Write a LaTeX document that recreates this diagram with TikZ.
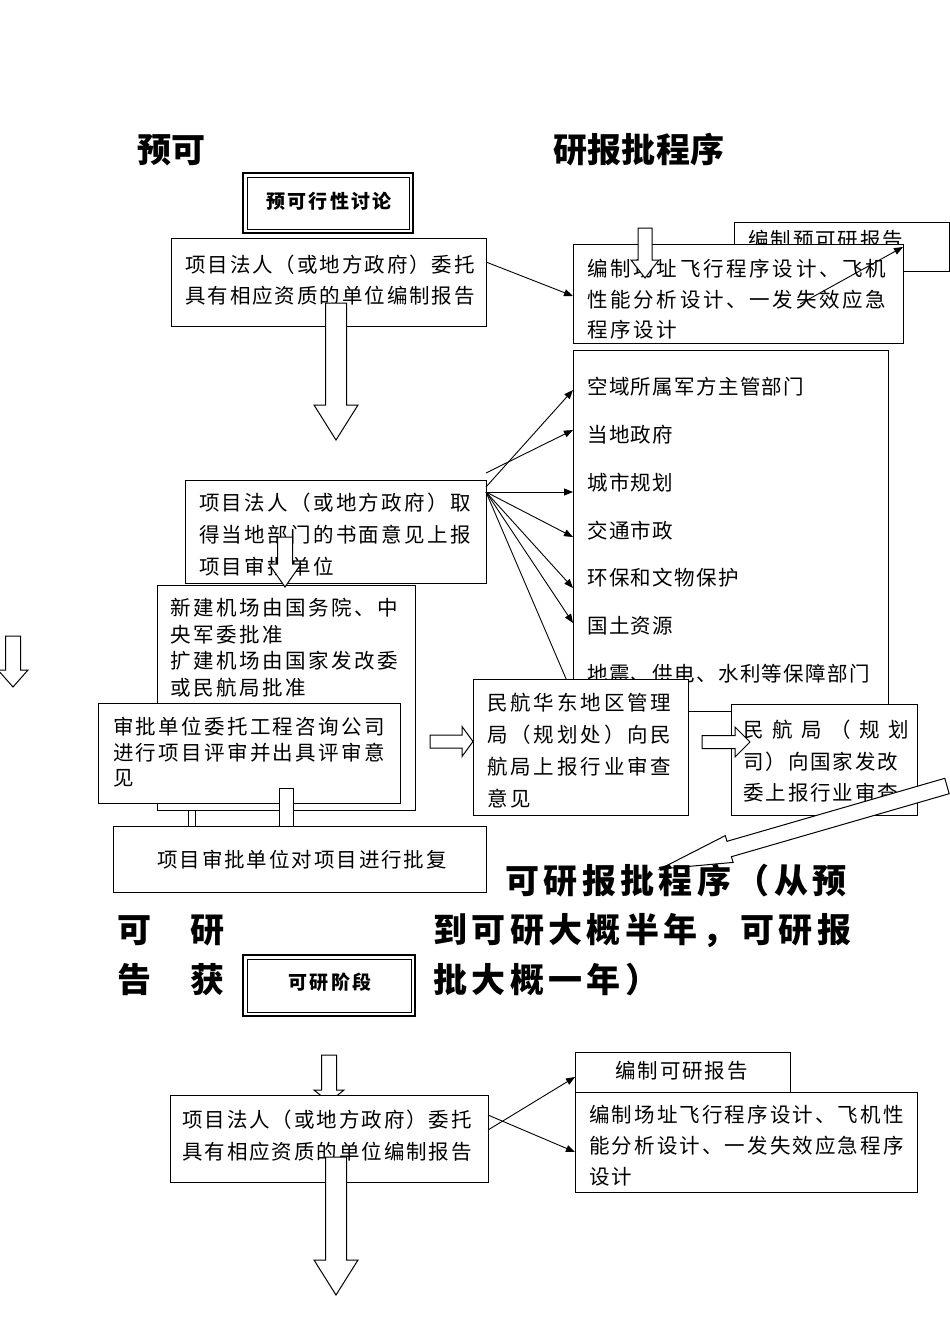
\documentclass[tikz,border=0pt]{standalone}
\usepackage{fontspec}
\newfontfamily\cjk{Noto Sans CJK SC}
\usetikzlibrary{arrows.meta}

\newcommand\ml[2]{\parbox[t]{400pt}{\baselineskip=#1pt\relax #2}}
\newcommand\bx[6][]{\node[box,#1,minimum width=#5pt,minimum height=#6pt] (#2) at (#3,#4) {};}
% down block arrow: cx, ytop, shaft half, head half, head start y, tip y
\newcommand\darr[6]{\draw[blk] ({#1-#3},#2) -- ({#1+#3},#2) -- ({#1+#3},#5) -- ({#1+#4},#5) -- (#1,#6) -- ({#1-#4},#5) -- ({#1-#3},#5) -- cycle;}
% right block arrow: cy, x0, shaft half, head half, head start x, tip x
\newcommand\rarr[6]{\draw[blk] (#2,{#1-#3}) -- (#5,{#1-#3}) -- (#5,{#1-#4}) -- (#6,#1) -- (#5,{#1+#4}) -- (#5,{#1+#3}) -- (#2,{#1+#3}) -- cycle;}
\newcommand\bodyfont[1]{\cjk\fontsize{20.5}{31}\selectfont\addfontfeature{LetterSpace=#1}}

\begin{document}
\begin{tikzpicture}[x=1pt,y=-1pt,
  box/.style={draw, fill=white, line width=1pt, inner sep=0pt, outer sep=0pt, anchor=north west},
  dbox/.style={box, line width=1.7pt},
  txt/.style={anchor=base west, inner sep=0pt, font=\bodyfont{9.4}},
  btxt/.style={anchor=base, inner sep=0pt, font=\cjk\bfseries\fontsize{19}{24}\selectfont\addfontfeature{LetterSpace=12}},
  title/.style={anchor=base west, inner sep=0pt, font=\cjk\bfseries\fontsize{34}{40}\selectfont\addfontfeature{LetterSpace=1}},
  big/.style={anchor=base west, inner sep=0pt, font=\cjk\bfseries\fontsize{34}{40}\selectfont\addfontfeature{LetterSpace=13}},
  ar/.style={-{Triangle[length=9pt,width=7pt]}, line width=0.9pt},
  ln/.style={line width=0.9pt},
  blk/.style={draw, fill=white, line width=1pt, line join=miter}]
\fill[white] (0,0) rectangle (950,1344);
\useasboundingbox (0,0) rectangle (950,1344);

% titles
\node[title] (tt1) at (137,162) {预可};
\node[title] (tt2) at (553,162) {研报批程序};

% pre-feasibility discussion box
\bx[dbox]{T1}{243}{173}{170}{60}
\draw[line width=0.8pt] ([xshift=4pt,yshift=-4pt]T1.north west) rectangle ([xshift=-4pt,yshift=4pt]T1.south east);
\node[btxt] (T1t) at (329,208) {预可行性讨论};

% A1
\bx{A1}{171}{238}{315}{88}
\node[txt] (A1t) at (185,272.5) {\ml{31}{项目法人（或地方政府）委托\\具有相应资质的单位编制报告}};

% P box
\bx{P}{734}{222}{215}{49}
\node[txt] (Pt) at (748,247.5) {编制预可研报告};

% B1
\bx{B1}{573}{244}{330}{99}
\begin{scope}
\clip (B1.north west) rectangle (B1.south east);
\node[txt, font=\bodyfont{13.2}] (B1t) at (587,276.5) {\ml{30.5}{编制场址飞行程序设计、飞机\\性能分析设计、一发失效应急\\程序设计}};
\end{scope}

\draw[ar] ([yshift=20pt]A1.east) -- ([yshift=-2.5pt]B1.west);
\coordinate (bs) at (800,304);
\draw[ar] (bs) -- ([yshift=-3pt]B1.north east);
\darr{645}{228}{7}{14}{260}{278}
\darr{336}{303}{10.5}{22}{405}{440}

% list box
\bx{L}{573}{350}{315}{361}
\begin{scope}[every node/.style={txt, font=\bodyfont{6.5}}]
\node (li1) at (587,394.5) {空域所属军方主管部门};
\node (li2) at (587,442.5) {当地政府};
\node (li3) at (587,490.5) {城市规划};
\node (li4) at (587,538.5) {交通市政};
\node (li5) at (587,585.5) {环保和文物保护};
\node (li6) at (587,633.5) {国土资源};
\node (li7) at (587,681.5) {地震、供电、水利等保障部门};
\end{scope}

% A2
\bx{A2}{185}{480}{301}{103}
\node[txt, font=\bodyfont{11.3}] (A2t) at (199,510.5) {\ml{32}{项目法人（或地方政府）取\\得当地部门的书面意见上报\\项目审批单位}};

\coordinate (a2s) at ([yshift=7pt]A2.north east);
\draw[ar] (a2s) -- ([yshift=-80pt]L.north west);
\draw[ar] ([yshift=-7pt]A2.north east) -- ([yshift=-40pt]L.north west);
\draw[ar] ([yshift=-12pt]A2.north east) -- ([yshift=-142pt]L.north west);
\draw[ar] ([yshift=-12pt]A2.north east) -- ([yshift=-187pt]L.north west);
\draw[ar] ([yshift=-12pt]A2.north east) -- ([yshift=-238pt]L.north west);
\draw[ar] ([yshift=-12pt]A2.north east) -- ([yshift=-273pt]L.north west);
\draw[ln] ([yshift=-12pt]A2.north east) -- ([yshift=-345pt]L.north west);

% A3
\bx{A3}{157}{585}{258}{225}
\node[txt, font=\bodyfont{12.2}] (A3t) at (170,615.5) {\ml{26.7}{新建机场由国务院、中\\央军委批准\\扩建机场由国家发改委\\或民航局批准}};
\darr{285}{537}{7.5}{16}{564}{587}

% A4
\bx{A4}{98}{703}{302}{100}
\node[txt, font=\bodyfont{11.3}] (A4t) at (113,734.5) {\ml{25.5}{审批单位委托工程咨询公司\\进行项目评审并出具评审意\\见}};

% left edge arrow
\darr{13}{636}{7.5}{15}{670}{687}

% connector stubs
\draw[blk] (188,810) rectangle (195,826);
\draw[blk] (279,788) rectangle (293,826);

% A5
\bx{A5}{113}{826}{373}{66}
\node[txt, anchor=base] (A5t) at (302,867.5) {项目审批单位对项目进行批复};

% C1
\bx{C1}{473}{679}{215}{136}
\node[txt, font=\bodyfont{14.1}] (C1t) at (487,710.5) {\ml{32}{民航华东地区管理\\局（规划处）向民\\航局上报行业审查\\意见}};

% C2
\bx{C2}{731}{704}{186}{111}
\node[txt] (C2t) at (743,737.5) {\ml{31.5}{\makebox[166pt][s]{民\hfil 航\hfil 局\hfil （\hfil 规\hfil 划}\\司）向国家发改\\委上报行业审查}};

\rarr{741.5}{430}{6.5}{15}{462}{473}
\rarr{742}{702}{6.5}{15}{735}{750}

% big diagonal arrow
\draw[blk] (944.8,778.3) -- (727,841.3) -- (725.3,835.6) -- (660,869) -- (733.1,862.4) -- (731.4,856.7) -- (949.2,793.7) -- cycle;

% big text rows
\node[big] (r1) at (505,893.5) {可研报批程序（从预};
\node[big] (r2a) at (117,942.5) {可};
\node[big] (r2b) at (190,942.5) {研};
\node[big] (r2c) at (433,942.5) {到可研大概半年，可研报};
\node[big] (r3a) at (117,992.5) {告};
\node[big] (r3b) at (190,992.5) {获};
\node[big] (r3c) at (433,992.5) {批大概一年）};

% feasibility stage box
\bx[dbox]{T2}{243}{955}{172}{61}
\draw[line width=0.8pt] ([xshift=4pt,yshift=-4pt]T2.north west) rectangle ([xshift=-4pt,yshift=4pt]T2.south east);
\node[btxt] (T2t) at (330,989) {可研阶段};

% bottom section
\darr{329}{1055}{7.5}{15}{1090}{1102}
\bx{D1}{170}{1095}{318}{87}
\node[txt] (D1t) at (182,1127.5) {\ml{32}{项目法人（或地方政府）委托\\具有相应资质的单位编制报告}};
\bx{D2}{575}{1052}{215}{40}
\node[txt] (D2t) at (615,1078.5) {编制可研报告};
\bx{D3}{575}{1092}{342}{100}
\node[txt, font=\bodyfont{10.3}] (D3t) at (589,1122.5) {\ml{31}{编制场址飞行程序设计、飞机性\\能分析设计、一发失效应急程序\\设计}};
\draw[ar] ([yshift=-20pt]D1.north east) -- ([yshift=-10pt]D3.west);
\draw[ar] ([yshift=-35pt]D1.north east) -- ([yshift=-5pt]D2.west);
\darr{336}{1157}{10.5}{22}{1260}{1295}
\end{tikzpicture}
\end{document}
